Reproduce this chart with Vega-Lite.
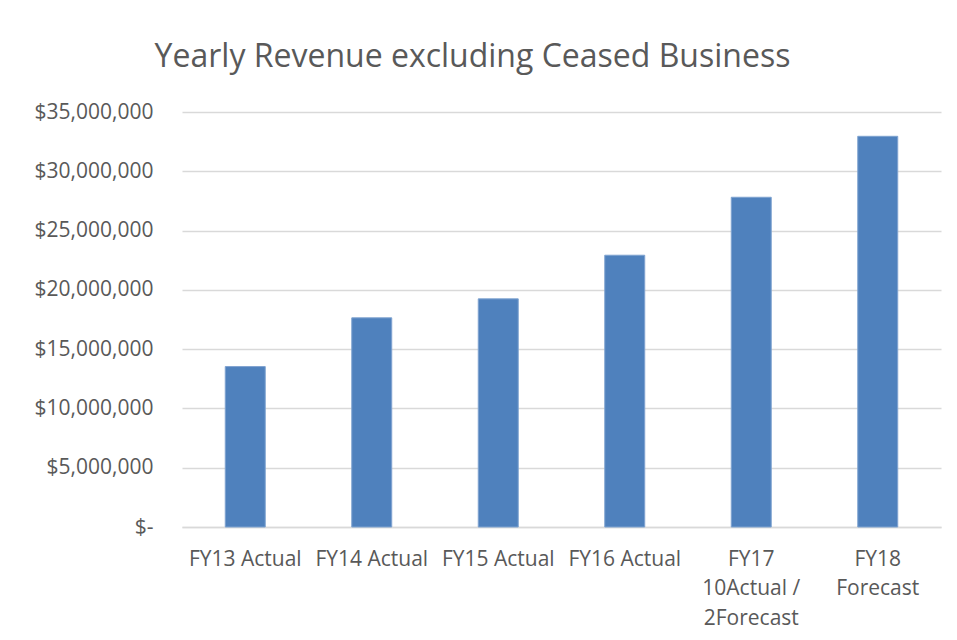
{
  "$schema": "https://vega.github.io/schema/vega-lite/v6.json",
  "width": 759,
  "height": 415,
  "autosize": {"type": "none"},
  "padding": {"left": 182, "top": 112, "right": 16, "bottom": 113},
  "background": "white",
  "title": {
    "text": "Yearly Revenue excluding Ceased Business",
    "font": "Open Sans",
    "fontSize": 32,
    "fontWeight": "normal",
    "color": "#595959",
    "anchor": "middle",
    "dx": -89,
    "offset": 27
  },
  "data": {
    "values": [
      {"period": "FY13 Actual", "revenue": 13530000},
      {"period": "FY14 Actual", "revenue": 17640000},
      {"period": "FY15 Actual", "revenue": 19240000},
      {"period": "FY16 Actual", "revenue": 22920000},
      {"period": "FY17|10Actual /|2Forecast", "revenue": 27810000},
      {"period": "FY18|Forecast", "revenue": 32950000}
    ]
  },
  "mark": {"type": "bar", "color": "#4F81BD", "stroke": "#7FA3D0", "strokeWidth": 1},
  "encoding": {
    "x": {
      "field": "period",
      "type": "nominal",
      "sort": null,
      "scale": {"paddingInner": 0.684, "paddingOuter": 0.342},
      "axis": {
        "title": null,
        "labelAngle": 0,
        "labelExpr": "split(datum.label, '|')",
        "labelFont": "Open Sans",
        "labelFontSize": 21,
        "labelColor": "#595959",
        "labelLineHeight": 29.5,
        "labelPadding": 21,
        "labelLimit": 0,
        "ticks": false,
        "domainColor": "#D9D9D9",
        "domainWidth": 1.5
      }
    },
    "y": {
      "field": "revenue",
      "type": "quantitative",
      "scale": {"domain": [0, 35000000], "nice": false},
      "axis": {
        "title": null,
        "values": [0, 5000000, 10000000, 15000000, 20000000, 25000000, 30000000, 35000000],
        "labelExpr": "datum.value == 0 ? '$-\u00a0\u00a0' : '$' + format(datum.value, ',')",
        "labelFont": "Open Sans",
        "labelFontSize": 21,
        "labelColor": "#595959",
        "labelPadding": 29,
        "ticks": false,
        "domain": false,
        "gridColor": "#D9D9D9",
        "gridWidth": 1.5
      }
    }
  },
  "config": {"view": {"stroke": null}}
}
